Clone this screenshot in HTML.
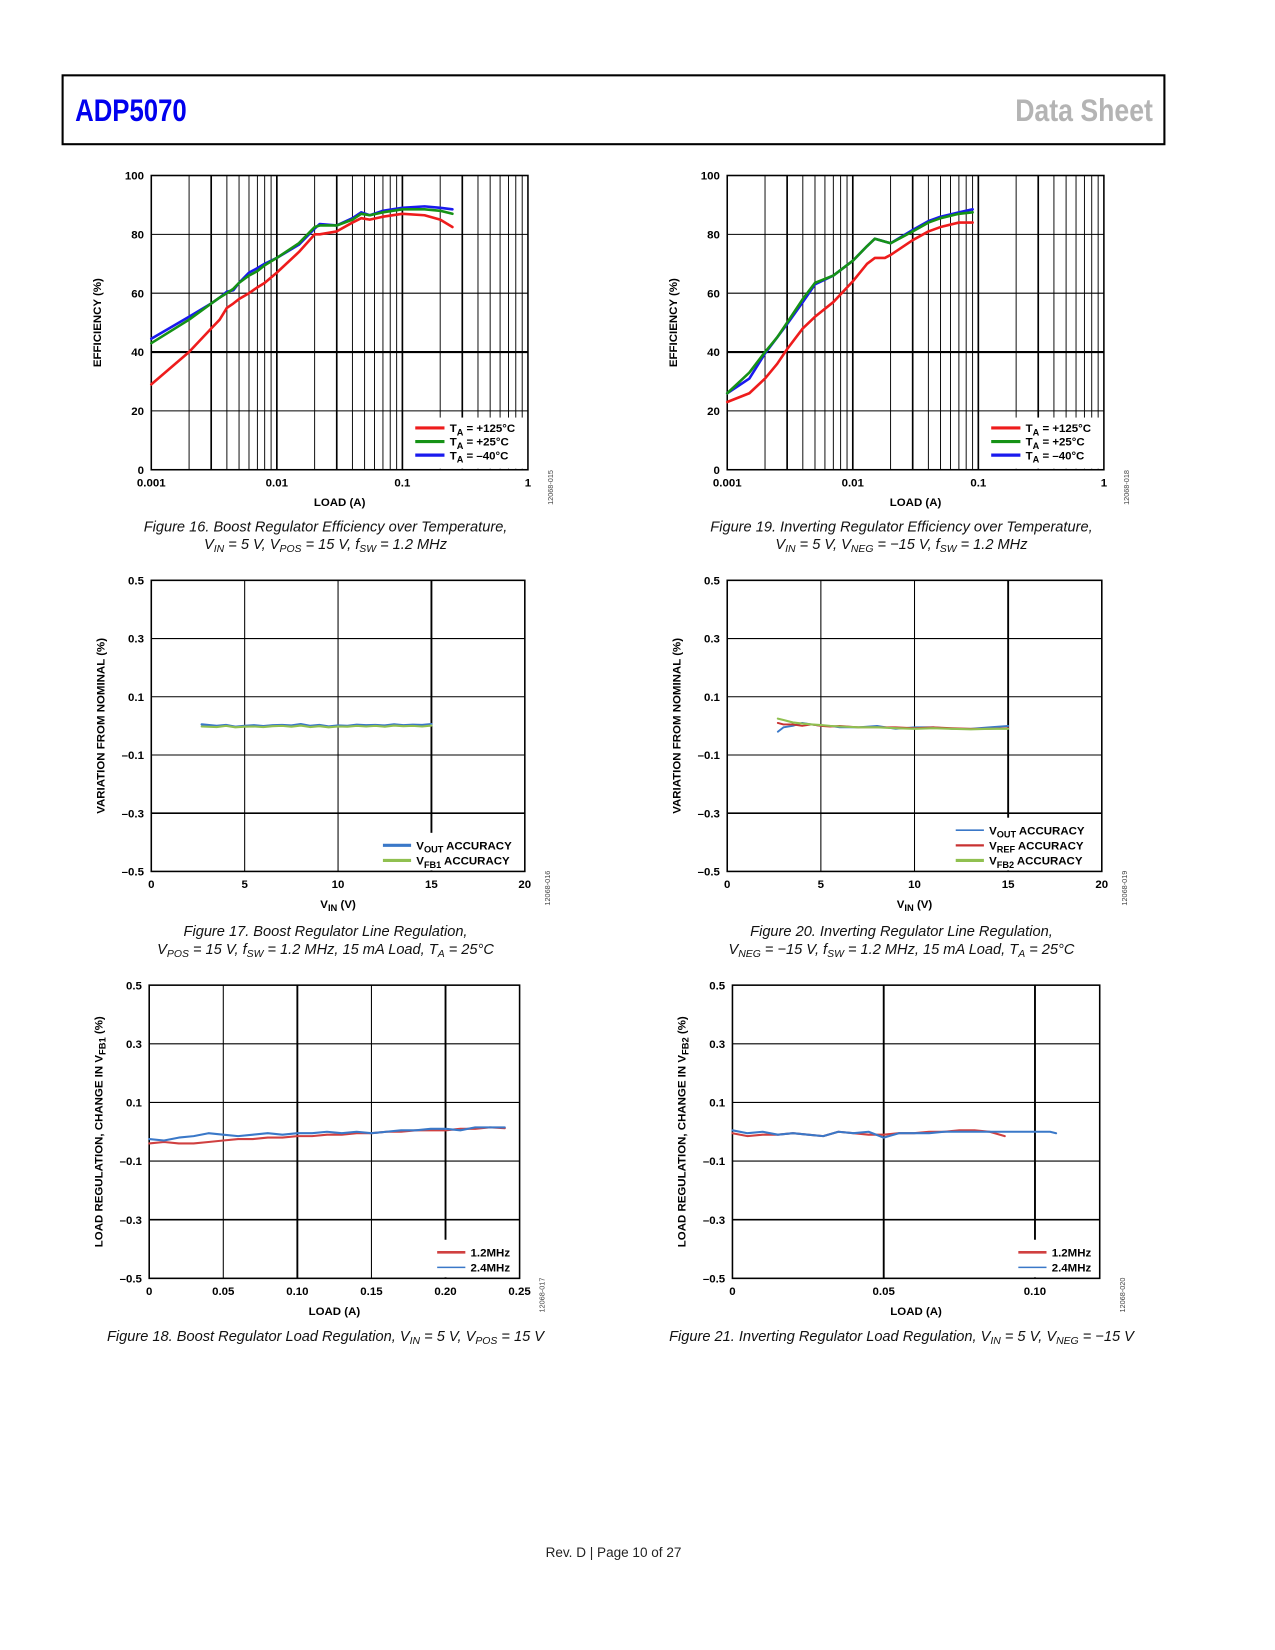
<!DOCTYPE html>
<html><head><meta charset="utf-8">
<style>
html,body{margin:0;padding:0;background:#fff;}
svg{display:block;}
text{font-family:"Liberation Sans",sans-serif;}
.tk{font-size:11px;font-weight:bold;fill:#000;}
.cap{font-family:"Liberation Sans Narrow","Liberation Sans",sans-serif;font-style:italic;font-size:14px;fill:#111;}
</style></head>
<body>
<svg id="page" width="1275" height="1650" viewBox="0 0 1222 1581" xmlns="http://www.w3.org/2000/svg">
<rect x="60" y="72" width="1056" height="66" fill="none" stroke="#000" stroke-width="2"/>
<text x="72" y="116" font-size="30" font-weight="bold" fill="#0000ee" textLength="107" lengthAdjust="spacingAndGlyphs">ADP5070</text>
<text x="973" y="116" font-size="30" font-weight="bold" fill="#b4b4b4" textLength="132" lengthAdjust="spacingAndGlyphs">Data Sheet</text>
<text x="588" y="1492" font-size="13" text-anchor="middle" fill="#222">Rev. D | Page 10 of 27</text>
<g id="charts"></g>
</svg>
<script>
// ---- Figure 16 data (boost efficiency) ----
const f16Load = [0.001,0.002,0.003,0.0035,0.004,0.0045,0.005,0.006,0.007,0.008,0.01,0.015,0.02,0.022,0.03,0.04,0.047,0.055,0.07,0.1,0.15,0.2,0.25];
const f16Red  = [29,40,48,51,55,56.5,58,60,62,63.5,67,74,80,80,81,84,85.5,85,86,87,86.5,85,82.5];
const f16Green= [43,51,56.5,58.5,60,61.5,63.5,66,67.5,69.5,72,77,82.5,83,83,85,87,86.5,87.5,88.5,88.5,88,87];
const f16Blue = [44.5,52,56.5,58.5,60.5,61,63.5,67,68.5,70,72,76.5,82,83.5,83,85.5,87.5,86.5,88,89,89.5,89,88.5];
// ---- Figure 19 data (inverting efficiency) ----
const f19Load = [0.001,0.0015,0.002,0.0025,0.003,0.004,0.005,0.007,0.01,0.013,0.015,0.018,0.02,0.03,0.04,0.05,0.07,0.09];
const f19Red  = [23,26,31,36,41,48,52,57,64,70,72,72,73,78,81,82.5,84,84];
const f19Green= [26,33,40,45,50,58,63.5,66,71,76,78.5,77.5,77,81,84,85.5,87,87.5];
const f19Blue = [26,31,39.5,45,49.5,57,63,66,71,76,78.5,77.5,77,81.5,84.5,86,87.5,88.5];
// ---- Figure 17 data (boost line regulation) ----
const f17Vin  = [2.7,3.5,4,4.5,5,5.5,6,6.5,7,7.5,8,8.5,9,9.5,10,10.5,11,11.5,12,12.5,13,13.5,14,14.5,15];
const f17Vout = [0.005,0.0,0.003,-0.003,0.0,0.002,-0.001,0.002,0.003,0.001,0.006,0.0,0.003,-0.002,0.001,0.0,0.004,0.002,0.003,0.001,0.005,0.002,0.004,0.003,0.006];
const f17Vfb1 = [-0.002,-0.004,0.0,-0.005,-0.003,-0.002,-0.004,-0.001,0.0,-0.003,0.001,-0.004,-0.001,-0.005,-0.002,-0.003,0.0,-0.002,0.0,-0.003,0.001,-0.001,0.0,-0.002,0.001];
// ---- Figure 20 data (inverting line regulation) ----
const f20Vin  = [2.7,3,3.5,4,4.5,5,5.5,6,7,8,9,10,11,12,13,14,15];
const f20Vout = [-0.02,-0.005,0.0,0.01,0.005,0.0,0.0,-0.005,-0.005,0.0,-0.01,-0.005,-0.005,-0.01,-0.01,-0.005,0.0];
const f20Vref = [0.01,0.005,0.005,0.0,0.005,0.0,-0.002,0.0,-0.005,-0.005,-0.005,-0.008,-0.005,-0.008,-0.01,-0.01,-0.008];
const f20Vfb2 = [0.025,0.02,0.012,0.008,0.005,0.003,0.0,-0.002,-0.005,-0.005,-0.008,-0.01,-0.008,-0.01,-0.012,-0.01,-0.01];
// ---- Figure 18 data (boost load regulation) ----
const f18Load = [0,0.01,0.02,0.03,0.04,0.05,0.06,0.07,0.08,0.09,0.1,0.11,0.12,0.13,0.14,0.15,0.16,0.17,0.18,0.19,0.2,0.21,0.22,0.23,0.24];
const f18R12  = [-0.04,-0.035,-0.04,-0.04,-0.035,-0.03,-0.025,-0.025,-0.02,-0.02,-0.015,-0.015,-0.01,-0.01,-0.005,-0.005,0.0,0.0,0.005,0.005,0.005,0.01,0.01,0.015,0.012];
const f18R24  = [-0.025,-0.03,-0.02,-0.015,-0.005,-0.01,-0.015,-0.01,-0.005,-0.01,-0.005,-0.005,0.0,-0.005,0.0,-0.005,0.0,0.005,0.005,0.01,0.01,0.005,0.015,0.015,0.015];
// ---- Figure 21 data (inverting load regulation) ----
const f21Load = [0,0.005,0.01,0.015,0.02,0.025,0.03,0.035,0.04,0.045,0.05,0.055,0.06,0.065,0.07,0.075,0.08,0.085,0.09,0.095,0.1,0.105,0.107];
const f21R12  = [-0.005,-0.015,-0.01,-0.01,-0.005,-0.01,-0.015,0.0,-0.005,-0.01,-0.01,-0.005,-0.005,0.0,0.0,0.005,0.005,0.0,-0.015,null,null,null,null];
const f21R24  = [0.005,-0.005,0.0,-0.01,-0.005,-0.01,-0.015,0.0,-0.005,0.0,-0.02,-0.005,-0.005,-0.005,0.0,0.0,0.0,0.0,0.0,0.0,0.0,0.0,-0.005];

const NS='http://www.w3.org/2000/svg';
const root=document.getElementById('charts');
function mk(tag,attrs,parent){const e=document.createElementNS(NS,tag);for(const k in attrs)e.setAttribute(k,attrs[k]);(parent||root).appendChild(e);return e;}
function txt(parent,x,y,str,cls,anchor){const t=mk('text',{x:x,y:y,'class':cls||'tk','text-anchor':anchor||'middle'},parent);t.textContent=str;return t;}
function subText(parent,x,y,pre,sub,post,size){
  const t=mk('text',{x:x,y:y,'font-size':size||11,'font-weight':'bold'},parent);
  const a=mk('tspan',{},t);a.textContent=pre;
  const b=mk('tspan',{dy:3,'font-size':(size||11)*0.8},t);b.textContent=sub;
  const c=mk('tspan',{dy:-3},t);c.textContent=post;return t;}

function frame(g,L,T,R,B){
  const r=mk('rect',{x:L,y:T,width:R-L,height:B-T,fill:'none',stroke:'#000','stroke-width':1.5},g);
  
  
}
function path(g,xs,ys,sx,sy,color,w){
  let d='';let pen=false;
  for(let i=0;i<xs.length;i++){if(ys[i]===null||ys[i]===undefined){pen=false;continue;}
    d+=(pen?'L':'M')+sx(xs[i]).toFixed(1)+','+sy(ys[i]).toFixed(1);pen=true;}
  return mk('path',{d:d,fill:'none',stroke:color,'stroke-width':w,'stroke-linejoin':'round','stroke-linecap':'round'},g);
}
function yTitle(g,x,cy,parts){
  const t=mk('text',{transform:`translate(${x},${cy}) rotate(-90)`,'text-anchor':'middle','font-size':11,'font-weight':'bold'},g);
  parts.forEach(p=>{const s=mk('tspan',p.sub?{dy:3,'font-size':9}:(p.up?{dy:-3}:{}),t);s.textContent=p.t;});
  return t;}
function codeLabel(g,x,y,str){const t=mk('text',{transform:`translate(${x},${y}) rotate(-90)`,'font-size':7,fill:'#444','text-anchor':'middle'},g);t.textContent=str;return t;}

// ---------- Efficiency log charts ----------
function effChart(id,L,T,R,B,load,red,green,blue,code,cap1,cap2parts,capX){
  const g=mk('g',{});
  
  
  const sx=v=>L+(Math.log10(v)+3)/3*(R-L);
  const sy=v=>B-(v/100)*(B-T);
  for(let d=-3;d<0;d++)for(let m=1;m<10;m++){
    if(m===1&&d===-3)continue;
    const x=sx(m*Math.pow(10,d));const thick=(m===1||m===3);
    mk('line',{x1:x,y1:T,x2:x,y2:B,stroke:'#000','stroke-width':thick?1.6:0.9},g);}
  [20,40,60,80].forEach(v=>mk('line',{x1:L,y1:sy(v),x2:R,y2:sy(v),stroke:'#000','stroke-width':v===40?2:1},g));
  const lb=mk('rect',{x:R-111,y:B-50,width:110,height:49,fill:'#fff'},g);
  
  
  frame(g,L,T,R,B);
  const pr=path(g,load,red,sx,sy,'#ee1c1c',2.5);
  
  
  const pb=path(g,load,blue,sx,sy,'#1a1aee',2.5);
  
  
  const pg=path(g,load,green,sx,sy,'#169216',2.5);
  
  
  [0,20,40,60,80,100].forEach(v=>txt(g,L-7,sy(v)+4,String(v),'tk','end'));
  ['0.001','0.01','0.1','1'].forEach((s,i)=>txt(g,L+i*(R-L)/3,B+16,s));
  txt(g,(L+R)/2,B+35,'LOAD (A)');
  yTitle(g,L-48,(T+B)/2,[{t:'EFFICIENCY (%)'}]);
  codeLabel(g,R+24,B+17,code);
  const leg=[['#ee1c1c','+125°C'],['#169216','+25°C'],['#1a1aee','–40°C']];
  leg.forEach((l,i)=>{const y=B-40+i*13;
    mk('line',{x1:R-108,y1:y,x2:R-80,y2:y,stroke:l[0],'stroke-width':3},g);
    const t=subText(g,R-75,y+4,'T','A',' = '+l[1]);
    
    });
  caption(g,capX,B+59,cap1,cap2parts);
}
function caption(g,x,y,l1,parts){
  const a=mk('text',{x:x,y:y,'class':'cap','text-anchor':'middle'},g);a.textContent=l1;
  
  
  if(parts){const b=mk('text',{x:x,y:y+17,'class':'cap','text-anchor':'middle'},g);
    parts.forEach(p=>{const s=mk('tspan',p.sub?{dy:3,'font-size':10}:(p.up?{dy:-3}:{}),b);s.textContent=p.t;});}
}
effChart('figure-16-boost-efficiency',145,168,506,450,f16Load,f16Red,f16Green,f16Blue,'12068-015',
 'Figure 16. Boost Regulator Efficiency over Temperature,',
 [{t:'V'},{t:'IN',sub:1},{t:' = 5 V, V',up:1},{t:'POS',sub:1},{t:' = 15 V, f',up:1},{t:'SW',sub:1},{t:' = 1.2 MHz',up:1}],312);
effChart('figure-19-inverting-efficiency',697,168,1058,450,f19Load,f19Red,f19Green,f19Blue,'12068-018',
 'Figure 19. Inverting Regulator Efficiency over Temperature,',
 [{t:'V'},{t:'IN',sub:1},{t:' = 5 V, V',up:1},{t:'NEG',sub:1},{t:' = −15 V, f',up:1},{t:'SW',sub:1},{t:' = 1.2 MHz',up:1}],864);

// ---------- Linear regulation charts ----------
function linChart(id,L,T,R,B,xMax,xTicks,xTickLabels,thickX,xTitleParts,yTitleParts,series,legendItems,legW,code,cap1,cap2parts,capX,capY){
  const g=mk('g',{});
  
  
  const sx=v=>L+v/xMax*(R-L);
  const sy=v=>B-(v+0.5)/1.0*(B-T);
  xTicks.forEach(v=>{if(v===0||sx(v)>=R-1)return;const th=thickX.includes(v);
    mk('line',{x1:sx(v),y1:T,x2:sx(v),y2:B,stroke:'#000','stroke-width':th?1.8:1},g);});
  [0.3,0.1,-0.1,-0.3].forEach(v=>mk('line',{x1:L,y1:sy(v),x2:R,y2:sy(v),stroke:'#000','stroke-width':v===-0.3?1.6:1},g));
  const nL=legendItems.length;
  const lb=mk('rect',{x:R-legW,y:B-nL*14.5-8,width:legW-1,height:nL*14.5+7,fill:'#fff'},g);
  
  
  frame(g,L,T,R,B);
  series.forEach(s=>{const p=path(g,s.x,s.y,sx,sy,s.c,s.w);
    
    });
  [0.5,0.3,0.1,-0.1,-0.3,-0.5].forEach(v=>txt(g,L-7,sy(v)+4,(v<0?'–':'')+Math.abs(v).toFixed(1),'tk','end'));
  xTicks.forEach((v,i)=>txt(g,sx(v),B+16,xTickLabels[i]));
  const xt=mk('text',{x:(L+R)/2,y:B+35,'text-anchor':'middle','font-size':11,'font-weight':'bold'},g);
  xTitleParts.forEach(p=>{const s=mk('tspan',p.sub?{dy:3,'font-size':9}:(p.up?{dy:-3}:{}),xt);s.textContent=p.t;});
  yTitle(g,L-45,(T+B)/2,yTitleParts);
  codeLabel(g,R+24,B+16,code);
  legendItems.forEach((l,i)=>{const y=B-nL*14.5+4+i*14.5;
    mk('line',{x1:R-legW+4,y1:y,x2:R-legW+31,y2:y,stroke:l.c,'stroke-width':l.w},g);
    const t=subText(g,R-legW+36,y+4,l.a,l.s,l.b);
    
    });
  caption(g,capX,capY,cap1,cap2parts);
}
const vinT=[{t:'V'},{t:'IN',sub:1},{t:' (V)',up:1}];
const varT=[{t:'VARIATION FROM NOMINAL (%)'}];
linChart('figure-17-boost-line-regulation',145,556,503,835,20,[0,5,10,15,20],['0','5','10','15','20'],[15],vinT,varT,
 [{x:f17Vin,y:f17Vout,c:'#3a78c8',w:2.2,n:'series-vout-accuracy'},{x:f17Vin,y:f17Vfb1,c:'#90c050',w:2,n:'series-vfb1-accuracy'}],
 [{c:'#3a78c8',w:3,a:'V',s:'OUT',b:' ACCURACY'},{c:'#90c050',w:3,a:'V',s:'FB1',b:' ACCURACY'}],140,'12068-016',
 'Figure 17. Boost Regulator Line Regulation,',
 [{t:'V'},{t:'POS',sub:1},{t:' = 15 V, f',up:1},{t:'SW',sub:1},{t:' = 1.2 MHz, 15 mA Load, T',up:1},{t:'A',sub:1},{t:' = 25°C',up:1}],312,897);
linChart('figure-20-inverting-line-regulation',697,556,1056,835,20,[0,5,10,15,20],['0','5','10','15','20'],[15],vinT,varT,
 [{x:f20Vin,y:f20Vout,c:'#3a78c8',w:1.8,n:'series-vout-accuracy'},{x:f20Vin,y:f20Vref,c:'#c83232',w:1.8,n:'series-vref-accuracy'},{x:f20Vin,y:f20Vfb2,c:'#90c050',w:2,n:'series-vfb2-accuracy'}],
 [{c:'#3a78c8',w:1.5,a:'V',s:'OUT',b:' ACCURACY'},{c:'#c83232',w:2.2,a:'V',s:'REF',b:' ACCURACY'},{c:'#90c050',w:3,a:'V',s:'FB2',b:' ACCURACY'}],144,'12068-019',
 'Figure 20. Inverting Regulator Line Regulation,',
 [{t:'V'},{t:'NEG',sub:1},{t:' = −15 V, f',up:1},{t:'SW',sub:1},{t:' = 1.2 MHz, 15 mA Load, T',up:1},{t:'A',sub:1},{t:' = 25°C',up:1}],864,897);
const loadT=[{t:'LOAD (A)'}];
linChart('figure-18-boost-load-regulation',143,944,498,1225,0.25,[0,0.05,0.10,0.15,0.20,0.25],['0','0.05','0.10','0.15','0.20','0.25'],[0.10,0.20],loadT,
 [{t:'LOAD REGULATION, CHANGE IN V'},{t:'FB1',sub:1},{t:' (%)',up:1}],
 [{x:f18Load,y:f18R12,c:'#d04040',w:2,n:'series-1p2mhz'},{x:f18Load,y:f18R24,c:'#3a78c8',w:2,n:'series-2p4mhz'}],
 [{c:'#d04040',w:2.5,a:'1.2MHz',s:'',b:''},{c:'#3a78c8',w:1.5,a:'2.4MHz',s:'',b:''}],83,'12068-017',
 '',null,312,1284);
linChart('figure-21-inverting-load-regulation',702,944,1054,1225,0.1214,[0,0.05,0.10],['0','0.05','0.10'],[0.05,0.10],loadT,
 [{t:'LOAD REGULATION, CHANGE IN V'},{t:'FB2',sub:1},{t:' (%)',up:1}],
 [{x:f21Load,y:f21R12,c:'#d04040',w:2,n:'series-1p2mhz'},{x:f21Load,y:f21R24,c:'#3a78c8',w:2,n:'series-2p4mhz'}],
 [{c:'#d04040',w:2.5,a:'1.2MHz',s:'',b:''},{c:'#3a78c8',w:1.5,a:'2.4MHz',s:'',b:''}],82,'12068-020',
 '',null,864,1284);
function capLine(x,y,parts,name){const b=mk('text',{x:x,y:y,'class':'cap','text-anchor':'middle'});
  
  
  parts.forEach(p=>{const s=mk('tspan',p.sub?{dy:3,'font-size':10}:(p.up?{dy:-3}:{}),b);s.textContent=p.t;});}
capLine(312,1285,[{t:'Figure 18. Boost Regulator Load Regulation, V'},{t:'IN',sub:1},{t:' = 5 V, V',up:1},{t:'POS',sub:1},{t:' = 15 V',up:1}],'figure-18-caption');
capLine(864,1285,[{t:'Figure 21. Inverting Regulator Load Regulation, V'},{t:'IN',sub:1},{t:' = 5 V, V',up:1},{t:'NEG',sub:1},{t:' = −15 V',up:1}],'figure-21-caption');
</script>
</body></html>
